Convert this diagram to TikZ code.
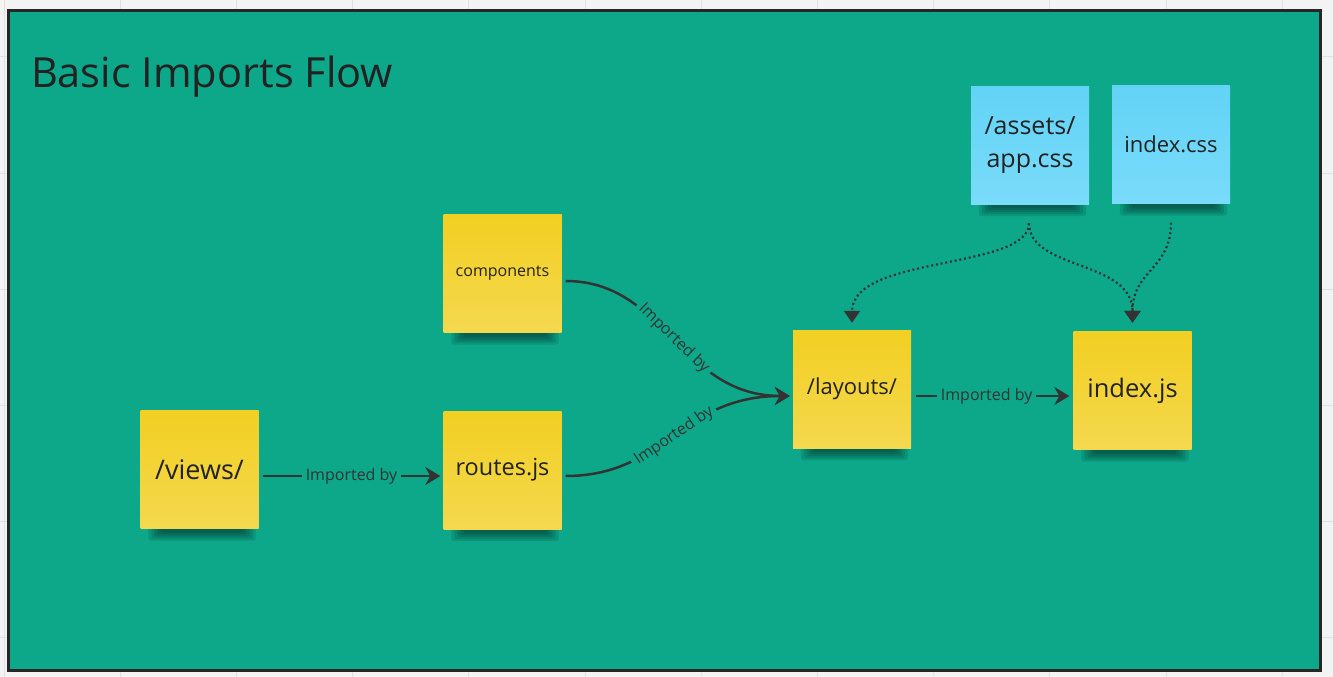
\documentclass[tikz,border=0pt]{standalone}
\usepackage{fontspec}
\setmainfont{Open Sans}
\usetikzlibrary{arrows.meta}
\definecolor{teal1}{HTML}{0DA78A}
\definecolor{frameC}{HTML}{262626}
\definecolor{bgC}{HTML}{F3F3F3}
\definecolor{gridC}{HTML}{E0E0E0}
\definecolor{yelT}{HTML}{F2CF22}
\definecolor{yelB}{HTML}{F4D84F}
\definecolor{bluT}{HTML}{62D3F6}
\definecolor{bluB}{HTML}{7ADBFA}
\definecolor{ink}{HTML}{333333}
\definecolor{txt}{HTML}{222222}
\pgfdeclarelayer{bg}
\pgfdeclarelayer{shadowlayer}
\pgfsetlayers{bg,shadowlayer,main}
\newcommand\fsz[2]{\fontsize{#1}{#2}\selectfont}
\newcommand\noteshadow[1]{%
  \begin{pgfonlayer}{shadowlayer}
    \foreach \i in {0,...,4}{
      \fill[black, opacity=0.1, rounded corners=3pt]
        ([shift={(8+3*\i,-2)}]#1.south west) rectangle ([shift={(-3-3*\i,12-2*\i)}]#1.south east);
    }
  \end{pgfonlayer}}
\tikzset{
  note/.style={minimum width=118pt, minimum height=118pt, inner sep=2pt, align=center, text=txt},
  yellownote/.style={note, top color=yelT, bottom color=yelB},
  bluenote/.style={note, top color=bluT, bottom color=bluB},
  conn/.style={draw=ink, line width=2.5pt, -{Stealth[length=15pt,width=18pt,inset=5pt]}},
  dotconn/.style={draw=ink, line width=2.2pt, dash pattern=on 2pt off 2.8pt, -{Triangle[length=12pt,width=16pt]}},
  lbl/.style={fill=teal1, text=ink, font=\fsz{16}{19}, inner xsep=4pt, inner ysep=1pt}
}
\begin{document}
\begin{tikzpicture}[x=1pt, y=-1pt]
\useasboundingbox (0,0) rectangle (1333,677);
\begin{pgfonlayer}{bg}
  \fill[bgC] (0,0) rectangle (1333,677);
  \foreach \k in {0,...,11}{\draw[gridC, line width=1pt] (4+116.2*\k,0) -- ++(0,677);}
  \foreach \k in {0,...,5}{\draw[gridC, line width=1pt] (0,57+116*\k) -- ++(1333,0);}
  \filldraw[fill=teal1, draw=frameC, line width=3pt] (8.5,10.5) rectangle (1320.5,670);
\end{pgfonlayer}

\node[anchor=base west, text=txt, font=\fsz{41.5}{48}] (title) at (27.5,88) {Basic Imports Flow};

\node[yellownote, font=\fsz{16}{20}] (components) at (502.5,273.5) {components};
\node[yellownote, font=\fsz{23.5}{28}] (routes) at (502.5,470) {routes.js};
\node[yellownote, font=\fsz{27}{32}] (views) at (199.5,469.5) {/views/};
\node[yellownote, font=\fsz{22}{27}] (layouts) at (852,389) {/layouts/};
\node[yellownote, font=\fsz{25.5}{30}] (indexjs) at (1132.5,390.5) {index.js};
\node[bluenote, font=\fsz{25}{33}] (assets) at (1030,145) {/assets/\\app.css};
\node[bluenote, font=\fsz{22}{27}] (indexcss) at (1171,144.5) {index.css};

\noteshadow{components}
\noteshadow{routes}
\noteshadow{views}
\noteshadow{layouts}
\noteshadow{indexjs}
\noteshadow{assets}
\noteshadow{indexcss}

\draw[conn] ([shift={(4,6.5)}]views.east) -- node[lbl]{Imported by} ([shift={(-3,6)}]routes.west);
\draw[conn] ([shift={(4,7.5)}]components.east) .. controls +(100,0) and +(-110,0) .. node[lbl, sloped]{Imported by} ([shift={(-3,7)}]layouts.west);
\draw[conn] ([shift={(4,6)}]routes.east) .. controls +(100,0) and +(-110,0) .. node[lbl, sloped]{Imported by} ([shift={(-3,7)}]layouts.west);
\draw[conn] ([shift={(5,7)}]layouts.east) -- node[lbl, pos=0.46]{Imported by} ([shift={(-4,5.5)}]indexjs.west);

\draw[dotconn] ([shift={(-1,19)}]assets.south) .. controls +(0,47) and +(0,-68) .. ([shift={(0,-7)}]layouts.north);
\draw[dotconn] ([shift={(-1,19)}]assets.south) .. controls +(0,47) and +(0,-63) .. ([shift={(0,-8.5)}]indexjs.north);
\draw[dotconn] ([shift={(0,19)}]indexcss.south) .. controls +(0,47) and +(0,-53) .. ([shift={(0,-8.5)}]indexjs.north);
\end{tikzpicture}
\end{document}
